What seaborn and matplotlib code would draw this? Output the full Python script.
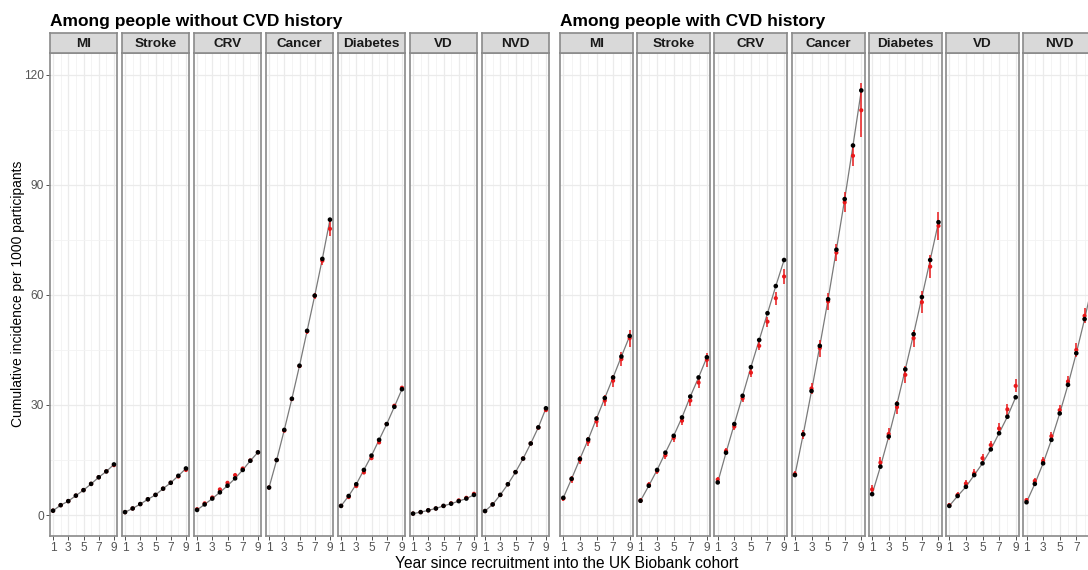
import pandas as pd
import matplotlib
matplotlib.use("Agg")
import matplotlib.pyplot as plt
import seaborn as sns

years = [1, 2, 3, 4, 5, 6, 7, 8, 9]
outcomes = ["MI", "Stroke", "CRV", "Cancer", "Diabetes", "VD", "NVD"]
group_titles = ["Among people without CVD history", "Among people with CVD history"]

# people without CVD history: observed (black), predicted (red), predicted half CI
no_mi_obs = [1.2, 2.7, 3.8, 5.3, 6.8, 8.5, 10.3, 11.9, 13.8]
no_mi_pred = [1.2, 2.7, 3.8, 5.3, 6.8, 8.5, 10.3, 11.9, 13.6]
no_mi_err = [0.1, 0.1, 0.15, 0.2, 0.2, 0.25, 0.3, 0.35, 0.4]
no_stroke_obs = [0.8, 1.8, 3.0, 4.3, 5.5, 7.2, 8.8, 10.7, 12.7]
no_stroke_pred = [0.8, 1.8, 3.0, 4.3, 5.5, 7.2, 8.8, 10.5, 12.3]
no_stroke_err = [0.1, 0.1, 0.15, 0.2, 0.2, 0.25, 0.3, 0.35, 0.4]
no_crv_obs = [1.4, 2.9, 4.5, 6.2, 8.0, 10.0, 12.3, 14.8, 17.1]
no_crv_pred = [1.6, 3.2, 4.8, 7.0, 8.8, 10.9, 12.7, 14.9, 17.1]
no_crv_err = [0.15, 0.2, 0.2, 0.25, 0.3, 0.3, 0.35, 0.4, 0.5]
no_cancer_obs = [7.5, 15.0, 23.2, 31.7, 40.7, 50.2, 59.8, 69.8, 80.5]
no_cancer_pred = [7.5, 15.0, 23.0, 31.6, 40.6, 50.0, 59.7, 69.3, 78.0]
no_cancer_err = [0.2, 0.3, 0.35, 0.4, 0.5, 0.6, 0.7, 1.1, 2.0]
no_diab_obs = [2.5, 5.2, 8.4, 12.3, 16.2, 20.5, 24.8, 29.5, 34.3]
no_diab_pred = [2.5, 4.9, 7.9, 11.6, 15.5, 19.8, 24.8, 29.8, 34.7]
no_diab_err = [0.15, 0.2, 0.25, 0.3, 0.35, 0.4, 0.45, 0.5, 0.6]
no_vd_obs = [0.4, 0.8, 1.3, 1.8, 2.5, 3.1, 3.8, 4.5, 5.5]
no_vd_pred = [0.4, 0.8, 1.3, 1.8, 2.5, 3.2, 4.0, 4.7, 5.8]
no_vd_err = [0.05, 0.1, 0.1, 0.1, 0.15, 0.15, 0.2, 0.2, 0.25]
no_nvd_obs = [1.1, 2.9, 5.5, 8.4, 11.7, 15.4, 19.5, 23.9, 29.1]
no_nvd_pred = [1.1, 2.9, 5.5, 8.4, 11.7, 15.4, 19.5, 23.8, 28.6]
no_nvd_err = [0.1, 0.15, 0.2, 0.25, 0.3, 0.35, 0.4, 0.45, 0.5]

# people with CVD history
cvd_mi_obs = [4.7, 9.9, 15.3, 20.6, 26.3, 31.9, 37.5, 43.2, 48.8]
cvd_mi_pred = [4.5, 9.7, 15.0, 20.0, 25.5, 31.2, 36.6, 42.5, 48.2]
cvd_mi_err = [0.7, 0.9, 1.0, 1.2, 1.4, 1.4, 1.6, 1.8, 2.3]
cvd_stroke_obs = [3.9, 8.0, 12.3, 17.0, 21.6, 26.6, 32.3, 37.5, 43.0]
cvd_stroke_pred = [4.0, 8.3, 12.0, 16.3, 21.0, 25.7, 31.2, 36.1, 42.3]
cvd_stroke_err = [0.6, 0.8, 0.9, 1.0, 1.1, 1.2, 1.4, 1.4, 1.9]
cvd_crv_obs = [8.9, 17.0, 24.8, 32.5, 40.3, 47.7, 55.0, 62.4, 69.5]
cvd_crv_pred = [9.7, 17.5, 24.1, 31.8, 38.8, 46.1, 52.7, 59.1, 65.0]
cvd_crv_err = [0.8, 0.9, 1.0, 1.1, 1.2, 1.1, 1.4, 1.8, 2.0]
cvd_cancer_obs = [10.9, 22.0, 33.8, 46.1, 58.8, 72.3, 86.1, 100.7, 115.7]
cvd_cancer_pred = [11.2, 22.0, 34.5, 45.5, 58.2, 71.5, 85.2, 97.9, 110.3]
cvd_cancer_err = [0.9, 1.3, 1.6, 2.3, 2.3, 2.3, 2.7, 2.7, 7.3]
cvd_diab_obs = [5.7, 13.2, 21.4, 30.3, 39.7, 49.3, 59.4, 69.5, 79.8]
cvd_diab_pred = [7.0, 14.3, 22.1, 29.4, 38.2, 48.2, 58.0, 67.7, 78.8]
cvd_diab_err = [1.1, 1.4, 1.6, 1.8, 2.3, 2.3, 3.0, 3.2, 3.9]
cvd_vd_obs = [2.5, 5.2, 7.7, 10.9, 14.1, 17.9, 22.3, 26.8, 32.1]
cvd_vd_pred = [2.7, 5.5, 8.6, 11.4, 15.5, 19.1, 23.6, 28.8, 35.2]
cvd_vd_err = [0.5, 0.8, 1.0, 1.1, 1.1, 1.1, 1.4, 1.6, 1.8]
cvd_nvd_obs = [3.5, 8.5, 14.1, 20.5, 27.7, 35.5, 44.1, 53.4, 63.4]
cvd_nvd_pred = [4.1, 9.3, 14.8, 21.5, 28.6, 36.4, 45.0, 54.3, 62.5]
cvd_nvd_err = [0.6, 0.8, 1.0, 1.2, 1.4, 1.6, 1.8, 2.0, 2.3]

series = {
    0: [(no_mi_obs, no_mi_pred, no_mi_err), (no_stroke_obs, no_stroke_pred, no_stroke_err),
        (no_crv_obs, no_crv_pred, no_crv_err), (no_cancer_obs, no_cancer_pred, no_cancer_err),
        (no_diab_obs, no_diab_pred, no_diab_err), (no_vd_obs, no_vd_pred, no_vd_err),
        (no_nvd_obs, no_nvd_pred, no_nvd_err)],
    1: [(cvd_mi_obs, cvd_mi_pred, cvd_mi_err), (cvd_stroke_obs, cvd_stroke_pred, cvd_stroke_err),
        (cvd_crv_obs, cvd_crv_pred, cvd_crv_err), (cvd_cancer_obs, cvd_cancer_pred, cvd_cancer_err),
        (cvd_diab_obs, cvd_diab_pred, cvd_diab_err), (cvd_vd_obs, cvd_vd_pred, cvd_vd_err),
        (cvd_nvd_obs, cvd_nvd_pred, cvd_nvd_err)],
}

rows = []
for g, lst in series.items():
    for out, (obs, pred, err) in zip(outcomes, lst):
        for yr, o, p, e in zip(years, obs, pred, err):
            rows.append((g, out, yr, o, p, e))
df = pd.DataFrame(rows, columns=["group", "outcome", "year", "obs", "pred", "err"])

sns.set_theme(style="white")
plt.rcParams["font.family"] = ["Liberation Sans", "DejaVu Sans"]

W, H = 1088, 570
fig = plt.figure(figsize=(W / 100, H / 100), dpi=100)

border = "#8a8a8a"
panel_top, panel_bot, strip_top = 53, 536, 33
layout = {0: (50, 67, 72), 1: (560, 73, 77.2)}

for g in (0, 1):
    x0, pw, step = layout[g]
    fig.text(x0 / W, 1 - 26 / H, group_titles[g], fontsize=12.5, fontweight="bold",
             ha="left", va="baseline", color="black")
    for i, out in enumerate(outcomes):
        left = x0 + i * step
        ax = fig.add_axes([left / W, 1 - panel_bot / H, pw / W, (panel_bot - panel_top) / H])
        d = df[(df["group"] == g) & (df["outcome"] == out)]
        sns.lineplot(data=d, x="year", y="obs", color="#7a7a7a", linewidth=0.9, ax=ax, zorder=2)
        ax.errorbar(d["year"], d["pred"], yerr=d["err"], fmt="none", ecolor="#e8191b",
                    elinewidth=1.1, capsize=0, zorder=3)
        sns.scatterplot(data=d, x="year", y="pred", color="#e8191b", s=9, edgecolor="none",
                        ax=ax, zorder=4)
        sns.scatterplot(data=d, x="year", y="obs", color="black", s=11, edgecolor="none",
                        ax=ax, zorder=5)
        ax.set_xlim(0.6, 9.4)
        ax.set_ylim(-5.7, 125.9)
        ax.set_xticks([1, 3, 5, 7, 9])
        if left + pw > W:
            # last panel runs past the image edge, its "9" is not visible
            ax.set_xticklabels(["1", "3", "5", "7", ""])
        ax.set_xticks([2, 4, 6, 8], minor=True)
        ax.set_yticks([0, 30, 60, 90, 120])
        ax.set_yticks([15, 45, 75, 105], minor=True)
        ax.grid(which="major", color="#EBEBEB", linewidth=0.9)
        ax.grid(which="minor", color="#F3F3F3", linewidth=0.6)
        ax.set_axisbelow(True)
        ax.set_xlabel("")
        ax.set_ylabel("")
        ax.tick_params(which="minor", length=0)
        ax.tick_params(which="major", length=3, width=0.6, color="#333333",
                       labelsize=8.6, labelcolor="#555555", pad=1.5)
        if g == 0 and i == 0:
            ax.tick_params(axis="y", left=True)
        else:
            ax.tick_params(axis="y", left=False, labelleft=False)
        ax.tick_params(axis="x", bottom=True)
        for sp in ax.spines.values():
            sp.set_color(border)
            sp.set_linewidth(1.2)

        sax = fig.add_axes([left / W, 1 - panel_top / H, pw / W, (panel_top - strip_top) / H])
        sax.set_facecolor("#D9D9D9")
        sax.set_xticks([])
        sax.set_yticks([])
        for sp in sax.spines.values():
            sp.set_color(border)
            sp.set_linewidth(1.2)
        sax.text(0.5, 0.45, out, transform=sax.transAxes, ha="center", va="center",
                 fontsize=9.7, fontweight="bold", color="#1a1a1a")

fig.text(18 / W, 1 - 294 / H, "Cumulative incidence per 1000 participants", rotation=90,
         ha="center", va="center", fontsize=10, color="black")
fig.text(567 / W, 1 - 563 / H, "Year since recruitment into the UK Biobank cohort",
         ha="center", va="center", fontsize=11.2, color="black")

fig.savefig("out.png", dpi=100)
